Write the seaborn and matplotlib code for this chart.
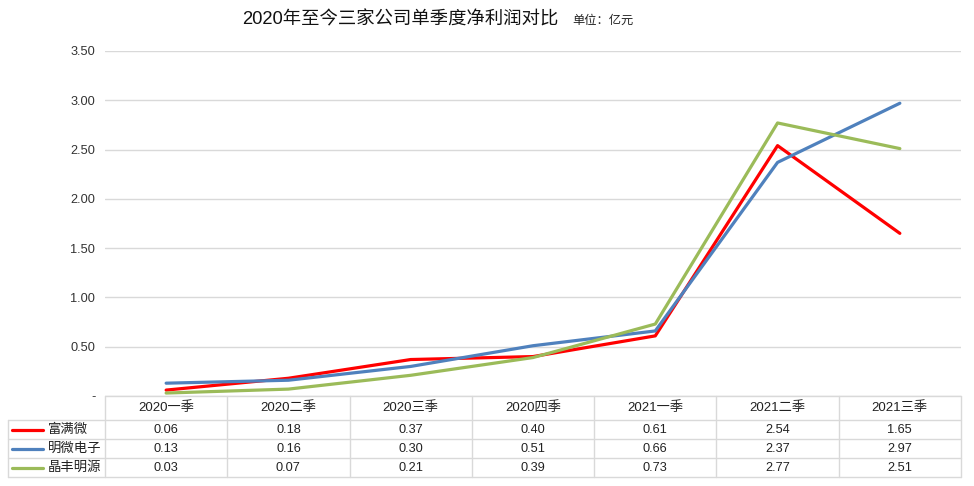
import matplotlib
matplotlib.use("Agg")
import matplotlib.pyplot as plt
import matplotlib.transforms as mtransforms
from matplotlib.lines import Line2D
import seaborn as sns
import pandas as pd

quarters = ["2020一季", "2020二季", "2020三季", "2020四季", "2021一季", "2021二季", "2021三季"]
companies = ["富满微", "明微电子", "晶丰明源"]
fuman = [0.06, 0.18, 0.37, 0.40, 0.61, 2.54, 1.65]
mingwei = [0.13, 0.16, 0.30, 0.51, 0.66, 2.37, 2.97]
jingfeng = [0.03, 0.07, 0.21, 0.39, 0.73, 2.77, 2.51]
series = [fuman, mingwei, jingfeng]
colors = ["#FF0000", "#4F81BD", "#9BBB59"]
yticks = [0, 0.5, 1.0, 1.5, 2.0, 2.5, 3.0, 3.5]

sns.set_theme(style="white")
plt.rcParams['font.family'] = ['Liberation Sans', 'Noto Sans CJK SC', 'DejaVu Sans']

W, H = 974, 486
fig = plt.figure(figsize=(W / 100, H / 100), dpi=100)
ax_l, ax_r, ax_t, ax_b = 105, 961, 51, 396
ax = fig.add_axes([ax_l / W, 1 - ax_b / H, (ax_r - ax_l) / W, (ax_b - ax_t) / H])

rows = []
for c, vals in zip(companies, series):
    for i, v in enumerate(vals):
        rows.append({"x": i, "value": v, "company": c})
df = pd.DataFrame(rows)
sns.lineplot(data=df, x="x", y="value", hue="company", hue_order=companies,
             palette=colors, linewidth=2.3, legend=False, ax=ax, zorder=3)

ax.set_xlim(-0.5, len(quarters) - 0.5)
ax.set_ylim(0, 3.5)
ax.set_yticks(yticks)
ax.set_yticklabels(["-" if t == 0 else f"{t:.2f}" for t in yticks], fontsize=9.2, color="#333333")
ax.set_xticks([])
ax.set_xlabel("")
ax.set_ylabel("")
ax.tick_params(axis="y", length=0, pad=7)
ax.grid(axis="y", color="#D9D9D9", linewidth=1.0)
ax.set_axisbelow(True)
for s in ax.spines.values():
    s.set_visible(False)

# pixel transform (from top-left)
pix = mtransforms.Affine2D().scale(1 / W, -1 / H).translate(0, 1) + fig.transFigure
bl = mtransforms.blended_transform_factory(ax.transData, pix)

gc = "#D9D9D9"
row_edges = [396, 420, 439, 458, 477]
# horizontal lines
fig.add_artist(Line2D([ax_l, ax_r], [396, 396], transform=pix, color=gc, lw=1.0))
for y in row_edges[1:]:
    fig.add_artist(Line2D([8, ax_r], [y, y], transform=pix, color=gc, lw=1.0))
# vertical lines
for i in range(len(quarters) + 1):
    fig.add_artist(Line2D([i - 0.5, i - 0.5], [396, 477], transform=bl, color=gc, lw=1.0))
fig.add_artist(Line2D([8, 8], [420, 477], transform=pix, color=gc, lw=1.0))

# header
for i, q in enumerate(quarters):
    fig.text(i, 408, q, transform=bl, ha="center", va="center", fontsize=9.5, color="#222222")
# rows
for r, (c, vals, col) in enumerate(zip(companies, series, colors)):
    yc = (row_edges[r + 1] + row_edges[r + 2]) / 2
    fig.add_artist(Line2D([12, 43], [yc, yc], transform=pix, color=col, lw=2.3))
    fig.text(48, yc, c, transform=pix, ha="left", va="center", fontsize=9.6, color="#222222")
    for i, v in enumerate(vals):
        fig.text(i, yc, f"{v:.2f}", transform=bl, ha="center", va="center", fontsize=9.2, color="#222222")

# title
fig.text(242, 20, "2020年至今三家公司单季度净利润对比", transform=pix, ha="left", va="center",
         fontsize=13.2, color="#111111")
fig.text(572, 21, "单位：亿元", transform=pix, ha="left", va="center", fontsize=8.8, color="#222222")

fig.savefig("out.png", dpi=100)
